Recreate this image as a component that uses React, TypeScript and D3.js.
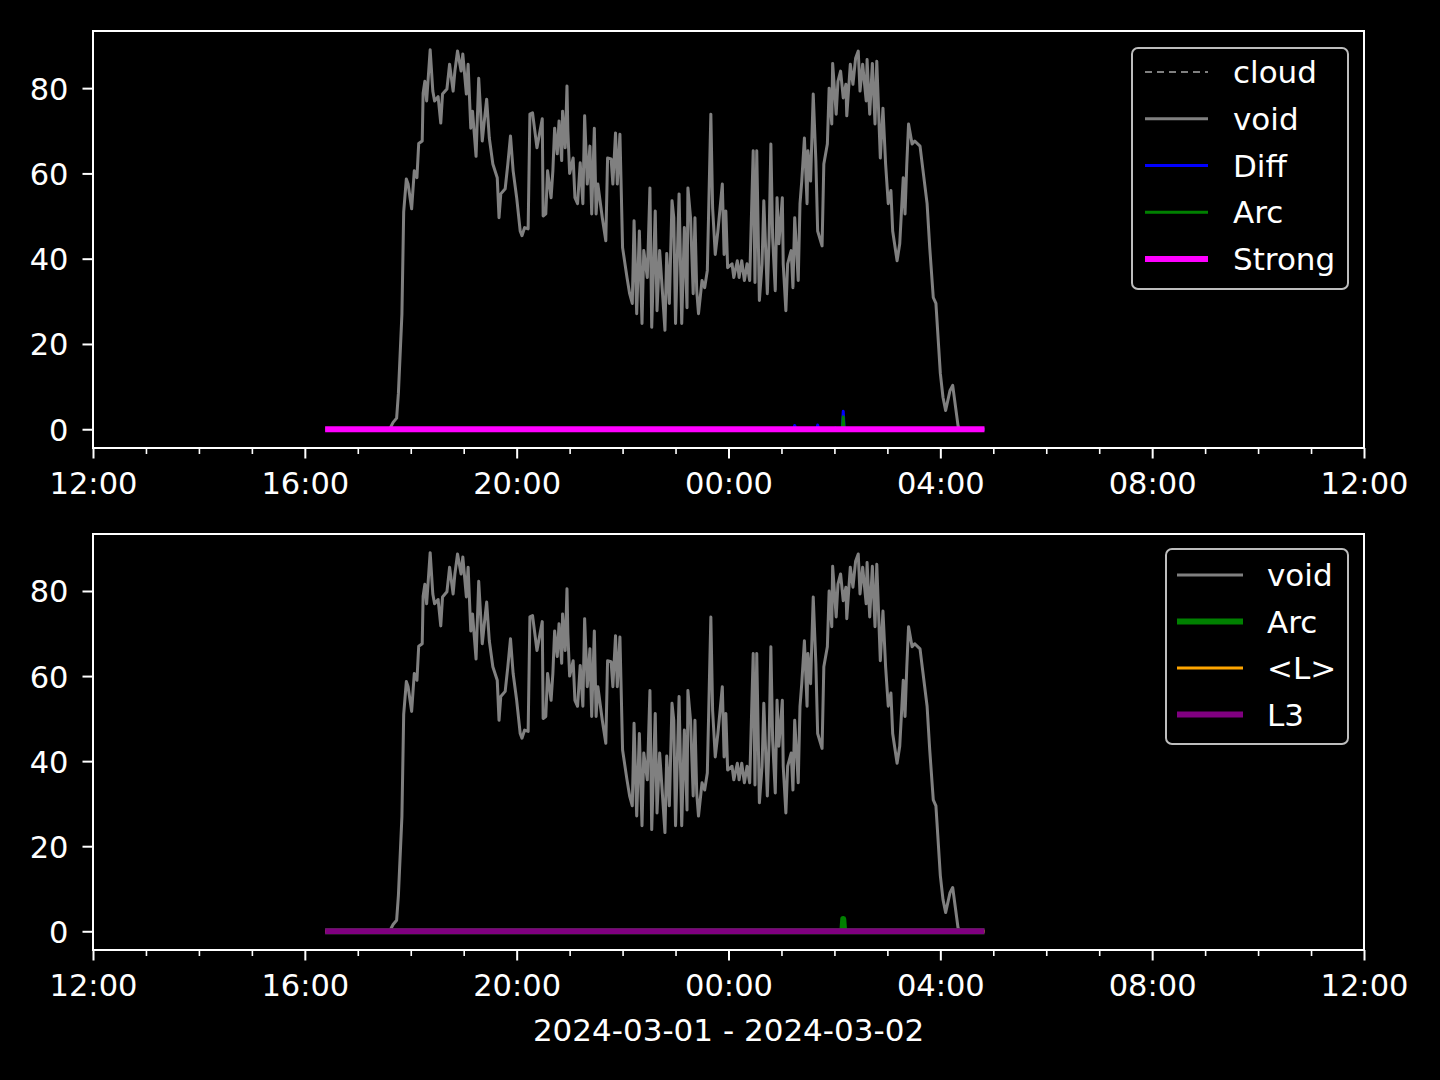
import React, { useEffect, useRef } from 'react';
import * as d3 from 'd3';

// time is minutes after 2024-03-01 12:00 (UTC)
const voidSeries: [number, number][] = [
  [263, 0], [336, 0], [340, 1.6], [344, 2.6], [346, 8.4], [350, 27], [352, 51], [355, 58.7],
  [357, 57.5], [361, 51.7], [364, 60.6], [367, 59], [369, 67], [373, 67.6], [374, 78.8],
  [376, 81.6], [378, 77], [382, 89], [385, 79.3], [387, 77], [391, 78], [394, 71.8],
  [396, 78.6], [401, 79.8], [404, 85.6], [408, 79.3], [410, 84], [413, 88.7], [417, 84],
  [419, 88], [423, 78.6], [425, 85.6], [428, 70.6], [430, 74.6], [434, 64], [437, 82.3],
  [441, 67.6], [443, 71.6], [446, 77.4], [449, 68.3], [453, 62.2], [458, 59], [460, 49.6],
  [462, 55.2], [467, 56.4], [470, 62.2], [473, 68.8], [476, 60.6], [480, 54.3], [484, 46.5],
  [486, 45.4], [489, 47.3], [493, 47], [495, 73.9], [498, 74.2], [503, 66], [505, 68.3],
  [509, 72.8], [510, 50], [513, 50.5], [515, 60.6], [519, 54.3], [521, 60.6], [523, 70.6],
  [526, 64.6], [528, 72.3], [531, 63], [532, 74.6], [535, 66], [537, 80.5], [538, 70],
  [540, 60], [544, 63.6], [546, 54.3], [549, 52.9], [552, 62.5], [555, 52.9], [557, 73.5],
  [560, 57.5], [563, 66.4], [565, 50.5], [568, 70.6], [570, 50.5], [572, 57.5], [577, 49.6],
  [581, 44.2], [583, 63.6], [587, 63.4], [589, 57.5], [592, 69.5], [594, 57.5], [597, 69.2],
  [600, 42.6], [605, 35.6], [608, 31.8], [611, 29.5], [613, 48.9], [616, 27.1], [619, 46.5],
  [622, 24.8], [624, 41.9], [628, 35.6], [631, 56.6], [633, 23.9], [637, 51.2], [639, 27.8],
  [642, 41.9], [646, 29.5], [648, 23.2], [650, 41.2], [653, 29.5], [656, 53.6], [658, 49.6],
  [660, 24.8], [664, 55.2], [667, 24.8], [670, 47.3], [673, 28.5], [674, 56.6], [677, 49.6],
  [680, 31.8], [682, 49.6], [684, 32.5], [686, 27.1], [690, 34.9], [693, 33.2], [696, 37.2],
  [700, 73.9], [702, 51.9], [705, 41], [708, 46.5], [713, 57.5], [715, 41], [717, 51.2],
  [719, 37.9], [724, 38.8], [726, 35.6], [730, 39.5], [732, 35.6], [735, 39.5], [738, 34.9],
  [741, 38.8], [744, 34.9], [748, 65.3], [750, 34.4], [752, 65.3], [755, 30.2], [758, 38.8],
  [760, 53.6], [764, 31.8], [766, 44.9], [768, 66.9], [770, 44.9], [773, 32.5], [775, 54.3],
  [777, 43.5], [781, 54.3], [782, 38.8], [785, 27.8], [787, 38.8], [791, 41.9], [793, 33.2],
  [795, 49.6], [799, 34.9], [801, 52.9], [803, 58.2], [806, 68.3], [809, 52.9], [810, 65.3],
  [813, 58.2], [816, 78.6], [819, 62.9], [821, 46.5], [826, 43], [828, 62.2], [832, 66.9],
  [834, 80], [837, 71.6], [838, 85.8], [842, 73.9], [844, 81.6], [847, 84], [850, 77.7],
  [853, 80.9], [854, 73.5], [858, 85.6], [861, 80.9], [864, 87], [867, 88.7], [869, 79.3],
  [872, 85.6], [876, 77], [877, 86.7], [880, 73.9], [883, 85.8], [886, 71.6], [888, 86.3],
  [892, 63.6], [895, 75.3], [898, 62.2], [901, 52.9], [904, 56], [906, 46.5], [911, 39.5],
  [914, 43.5], [918, 59], [920, 50.5], [922, 62.2], [924, 71.6], [928, 66.9], [931, 67.6],
  [937, 66.4], [940, 61.3], [945, 52.9], [948, 42.6], [952, 30.9], [955, 29.5], [960, 13.1],
  [963, 7.5], [966, 4.4], [971, 9.1], [974, 10.3], [980, 0.9], [981, 0], [1010, 0],
];

const cloudSeries: [number, number][] = [];

const diffSeries: [number, number][] = [
  [263, 0], [794, 0], [795, 0.9], [796, 0], [820, 0], [821, 1.0], [822, 0],
  [840, 0], [841, 0.3], [842, 0], [849, 0], [850, 4.2], [851, 0], [1010, 0],
];

const arcSeries: [number, number][] = [
  [263, 0], [849, 0], [850, 2.9], [851, 0], [1010, 0],
];

const strongSeries: [number, number][] = [[263, 0], [1010, 0]];
const meanLSeries: [number, number][] = [[263, 0], [1010, 0]];
const l3Series: [number, number][] = [[263, 0], [1010, 0]];

const yTicks = [0, 20, 40, 60, 80];
const xLabel = '2024-03-01 - 2024-03-02';

interface Series {
  name: string;
  data: [number, number][];
  color: string;
  width: number;
  dash?: string;
}

const topSeries: Series[] = [
  { name: 'cloud', data: cloudSeries, color: '#808080', width: 2, dash: '7,5' },
  { name: 'void', data: voidSeries, color: '#808080', width: 3 },
  { name: 'Diff', data: diffSeries, color: '#0000ff', width: 3 },
  { name: 'Arc', data: arcSeries, color: '#008000', width: 3 },
  { name: 'Strong', data: strongSeries, color: '#ff00ff', width: 6 },
];

const bottomSeries: Series[] = [
  { name: 'void', data: voidSeries, color: '#808080', width: 3 },
  { name: 'Arc', data: arcSeries, color: '#008000', width: 6 },
  { name: '<L>', data: meanLSeries, color: '#ffa500', width: 3 },
  { name: 'L3', data: l3Series, color: '#800080', width: 6 },
];

const FONT = '"DejaVu Sans", Verdana, sans-serif';
const TICK_FS = 30.5;
const TEXT_FS = 31;

export default function App() {
  const svgRef = useRef<SVGSVGElement>(null);

  useEffect(() => {
    document.body.style.margin = '0';
    document.body.style.background = '#000';
    if (!svgRef.current) return;
    const svg = d3.select(svgRef.current);
    svg.selectAll('*').remove();

    const t0 = new Date(Date.UTC(2024, 2, 1, 12, 0));
    const t1 = new Date(Date.UTC(2024, 2, 2, 12, 0));
    const toDate = (m: number) => new Date(t0.getTime() + m * 60000);

    const left = 93;
    const right = 1364;

    const panels = [
      { top: 31, bottom: 448, series: topSeries, legend: { x: 1132, y: 48, w: 216, h: 241, row0: 72, step: 46.75, hx0: 1145, hx1: 1208, tx: 1233 } },
      { top: 534, bottom: 950, series: bottomSeries, legend: { x: 1166, y: 549, w: 182, h: 195, row0: 575, step: 46.5, hx0: 1177, hx1: 1243, tx: 1267 } },
    ];

    svg.append('rect').attr('width', 1440).attr('height', 1080).attr('fill', '#000');

    panels.forEach((p, i) => {
      const x = d3.scaleUtc().domain([t0, t1]).range([left, right]);
      const y = d3.scaleLinear().domain([-4.4, 93.4]).range([p.bottom, p.top]);

      const clipId = `clip-${i}`;
      svg.append('clipPath').attr('id', clipId)
        .append('rect')
        .attr('x', left).attr('y', p.top)
        .attr('width', right - left).attr('height', p.bottom - p.top);

      const line = d3.line<[number, number]>()
        .x(d => x(toDate(d[0])))
        .y(d => y(d[1]));

      const plot = svg.append('g').attr('clip-path', `url(#${clipId})`);
      p.series.forEach(s => {
        if (s.data.length === 0) return;
        plot.append('path')
          .datum(s.data)
          .attr('d', line)
          .attr('fill', 'none')
          .attr('stroke', s.color)
          .attr('stroke-width', s.width)
          .attr('stroke-linejoin', 'round')
          .attr('stroke-dasharray', s.dash || null);
      });

      // minor ticks every hour
      const majors = x.ticks(d3.utcHour.every(4)!);
      const minors = x.ticks(d3.utcHour.every(1)!).filter(d => d.getUTCHours() % 4 !== 0);

      const minorAxis = svg.append('g')
        .attr('transform', `translate(0,${p.bottom})`)
        .call(d3.axisBottom(x).tickValues(minors).tickSize(6).tickFormat(() => ''));
      minorAxis.select('.domain').remove();
      minorAxis.selectAll('line').attr('stroke', '#fff').attr('stroke-width', 1.6);

      const xAxis = svg.append('g')
        .attr('transform', `translate(0,${p.bottom})`)
        .call(d3.axisBottom(x).tickValues(majors).tickSize(10.5).tickPadding(14)
          .tickFormat(d => d3.utcFormat('%H:%M')(d as Date)));
      xAxis.select('.domain').remove();
      xAxis.selectAll('line').attr('stroke', '#fff').attr('stroke-width', 2);
      xAxis.selectAll('text')
        .attr('fill', '#fff')
        .style('font-family', FONT)
        .style('font-size', `${TICK_FS}px`);

      const yAxis = svg.append('g')
        .attr('transform', `translate(${left},0)`)
        .call(d3.axisLeft(y).tickValues(yTicks).tickSize(10.5).tickPadding(14));
      yAxis.select('.domain').remove();
      yAxis.selectAll('line').attr('stroke', '#fff').attr('stroke-width', 2);
      yAxis.selectAll('text')
        .attr('fill', '#fff')
        .attr('dy', '0.36em')
        .style('font-family', FONT)
        .style('font-size', `${TICK_FS}px`);

      // spines
      svg.append('rect')
        .attr('x', left).attr('y', p.top)
        .attr('width', right - left).attr('height', p.bottom - p.top)
        .attr('fill', 'none')
        .attr('stroke', '#fff')
        .attr('stroke-width', 2);

      // legend
      const L = p.legend;
      const lg = svg.append('g');
      lg.append('rect')
        .attr('x', L.x).attr('y', L.y)
        .attr('width', L.w).attr('height', L.h)
        .attr('rx', 6)
        .attr('fill', '#000').attr('fill-opacity', 0.8)
        .attr('stroke', '#bdbdbd')
        .attr('stroke-width', 2);
      p.series.forEach((s, k) => {
        const ry = L.row0 + k * L.step;
        lg.append('line')
          .attr('x1', L.hx0).attr('x2', L.hx1)
          .attr('y1', ry).attr('y2', ry)
          .attr('stroke', s.color)
          .attr('stroke-width', s.width)
          .attr('stroke-dasharray', s.dash || null);
        lg.append('text')
          .attr('x', L.tx).attr('y', ry)
          .attr('dy', '0.36em')
          .attr('fill', '#fff')
          .style('font-family', FONT)
          .style('font-size', `${TEXT_FS}px`)
          .text(s.name);
      });
    });

    svg.append('text')
      .attr('x', (left + right) / 2)
      .attr('y', 1041)
      .attr('text-anchor', 'middle')
      .attr('fill', '#fff')
      .style('font-family', FONT)
      .style('font-size', `${TEXT_FS}px`)
      .text(xLabel);
  }, []);

  return (
    <svg
      ref={svgRef}
      width={1440}
      height={1080}
      style={{ display: 'block', position: 'absolute', left: 0, top: 0 }}
    />
  );
}
